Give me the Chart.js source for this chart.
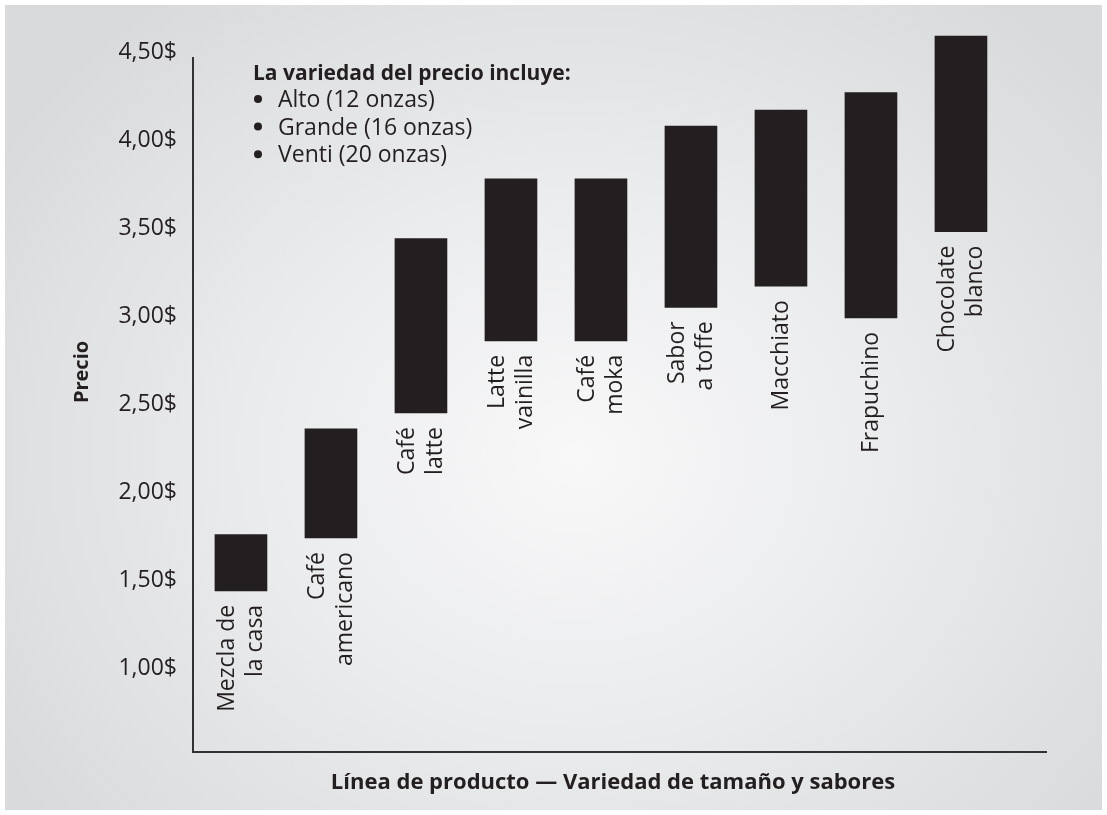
<!DOCTYPE html>
<html>
<head>
<meta charset="utf-8">
<script src="https://cdn.jsdelivr.net/npm/chart.js@4.4.1/dist/chart.umd.min.js"></script>
<style>
    body { margin: 0; background: #fff; }
    #wrap { position: relative; width: 1107px; height: 815px; }
    #panel {
        position: absolute; left: 5px; top: 5px; right: 5px; bottom: 5px;
        background: radial-gradient(ellipse 62% 72% at 52% 56%, #f8f8f9 0%, #ebeced 45%, #d9dadc 100%);
    }
    #chart { position: absolute; left: 0; top: 0; }
</style>
</head>
<body>
<div id="wrap">
    <div id="panel"></div>
    <canvas id="chart" width="1107" height="815"></canvas>
</div>
<script>
const products = [
    ["Mezcla de", "la casa"],
    ["Café", "americano"],
    ["Café", "latte"],
    ["Latte", "vainilla"],
    ["Café", "moka"],
    ["Sabor", "a toffe"],
    ["Macchiato"],
    ["Frapuchino"],
    ["Chocolate", "blanco"]
];
const lowPrices  = [1.44, 1.74, 2.45, 2.86, 2.86, 3.05, 3.17, 2.99, 3.48];
const highPrices = [1.76, 2.36, 3.44, 3.78, 3.78, 4.08, 4.17, 4.27, 4.59];
const yTicks = [1.0, 1.5, 2.0, 2.5, 3.0, 3.5, 4.0, 4.5];
const noteTitle = "La variedad del precio incluye:";
const noteItems = ["Alto (12 onzas)", "Grande (16 onzas)", "Venti (20 onzas)"];

const INK = "#231f20";
const FONT = "'Open Sans', 'Noto Sans', sans-serif";

Chart.defaults.font.family = FONT;
Chart.defaults.color = INK;

// axis lines, bar captions and the text block are drawn by hand
const decorations = {
    id: "decorations",
    afterDatasetsDraw(chart) {
        const { ctx, chartArea } = chart;
        ctx.save();
        ctx.strokeStyle = "#333132";
        ctx.lineWidth = 2;
        ctx.beginPath();
        ctx.moveTo(chartArea.left + 1, chartArea.top + 27);
        ctx.lineTo(chartArea.left + 1, chartArea.bottom);
        ctx.lineTo(chartArea.right, chartArea.bottom);
        ctx.stroke();
        ctx.restore();
    },
    afterDraw(chart) {
        const { ctx, chartArea } = chart;
        const meta = chart.getDatasetMeta(0);
        ctx.save();
        ctx.fillStyle = INK;

        // captions under each bar, rotated to read upward
        ctx.font = "23px " + FONT;
        ctx.textAlign = "right";
        ctx.textBaseline = "middle";
        meta.data.forEach((bar, i) => {
            const lines = products[i];
            const bottom = Math.max(bar.y, bar.base);
            ctx.save();
            ctx.translate(bar.x, bottom + 14);
            ctx.rotate(-Math.PI / 2);
            lines.forEach((line, j) => {
                ctx.fillText(line, 0, (j - (lines.length - 1) / 2) * 28);
            });
            ctx.restore();
        });

        // size note
        const nx = chartArea.left + 61;
        ctx.textAlign = "left";
        ctx.textBaseline = "alphabetic";
        ctx.font = "bold 21px " + FONT;
        ctx.fillText(noteTitle, nx, 80);
        noteItems.forEach((item, i) => {
            const by = 107 + i * 27.6;
            ctx.beginPath();
            ctx.arc(nx + 5, by - 8, 4, 0, Math.PI * 2);
            ctx.fill();
            ctx.font = "23px " + FONT;
            ctx.fillText(item, nx + 25, by);
        });

        // axis titles
        ctx.font = "bold 22px " + FONT;
        ctx.textAlign = "center";
        ctx.fillText("Línea de producto — Variedad de tamaño y sabores", 613, 789);

        ctx.save();
        ctx.font = "bold 20px " + FONT;
        ctx.translate(82, 372);
        ctx.rotate(-Math.PI / 2);
        ctx.textBaseline = "middle";
        ctx.fillText("Precio", 0, 0);
        ctx.restore();

        ctx.restore();
    }
};

new Chart(document.getElementById("chart"), {
    type: "bar",
    data: {
        datasets: [{
            data: products.map((p, i) => ({ x: i, y: [lowPrices[i], highPrices[i]] })),
            backgroundColor: INK,
            borderWidth: 0,
            barThickness: 52
        }]
    },
    options: {
        responsive: false,
        animation: false,
        devicePixelRatio: 1,
        layout: { padding: { left: 0, right: 60, top: 30, bottom: 63 } },
        plugins: {
            legend: { display: false },
            tooltip: { enabled: false }
        },
        scales: {
            x: {
                type: "linear",
                offset: false,
                min: -0.544,
                max: 8.956,
                display: false
            },
            y: {
                min: 0.525,
                max: 4.625,
                grid: { display: false, drawTicks: false },
                border: { display: false },
                afterBuildTicks: scale => {
                    scale.ticks = yTicks.map(v => ({ value: v }));
                },
                afterFit: scale => {
                    scale.width = 192;
                },
                ticks: {
                    padding: 15,
                    color: INK,
                    font: { size: 23 },
                    callback: v => v.toFixed(2).replace(".", ",") + "$"
                }
            }
        }
    },
    plugins: [decorations]
});
</script>
</body>
</html>
